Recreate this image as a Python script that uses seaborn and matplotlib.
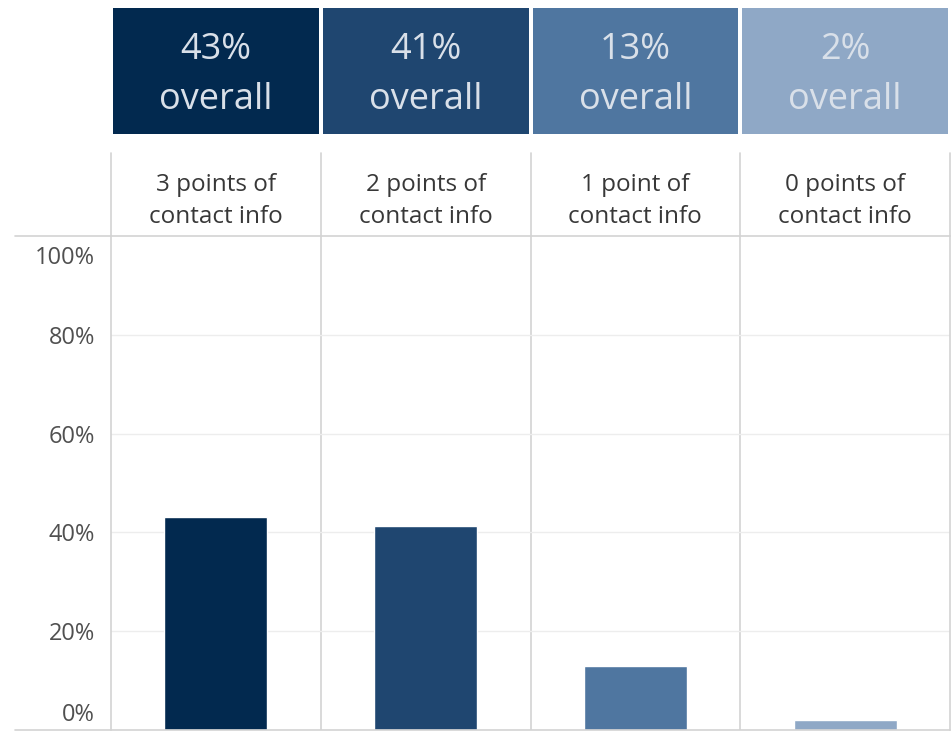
import numpy as np
import matplotlib
matplotlib.use("Agg")
import matplotlib.pyplot as plt
from matplotlib.colors import ListedColormap
from matplotlib.lines import Line2D
import seaborn as sns

# ---- data ----
categories = ["3 points of\ncontact info", "2 points of\ncontact info",
              "1 point of\ncontact info", "0 points of\ncontact info"]
shares = [0.432, 0.412, 0.129, 0.021]
header_labels = ["43%\noverall", "41%\noverall", "13%\noverall", "2%\noverall"]
colors = ["#02294f", "#1f4670", "#4f76a0", "#8fa8c6"]
yticks = [0.0, 0.2, 0.4, 0.6, 0.8, 1.0]
ytick_labels = ["0%", "20%", "40%", "60%", "80%", "100%"]

sns.set_theme(style="white")
plt.rcParams["font.family"] = ["Open Sans", "DejaVu Sans"]

W, H = 952, 731
fig = plt.figure(figsize=(W / 100, H / 100), dpi=100)

left = 111 / W
width = (950 - 111) / W

def fy(top_px, bot_px):
    return 1 - bot_px / H, (bot_px - top_px) / H

GRID = "#d3d3d3"

# ---- header boxes (heatmap) ----
b, h = fy(6, 136)
ax_h = fig.add_axes([left, b, width, h])
sns.heatmap(np.array([[0, 1, 2, 3]]), cmap=ListedColormap(colors), cbar=False,
            annot=np.array([header_labels]), fmt="", linewidths=1.5, linecolor="white",
            annot_kws={"color": "#d9e0e9", "fontsize": 26, "linespacing": 1.52},
            ax=ax_h)
for t in ax_h.texts:
    t.set_y(0.53)
ax_h.set_xticks([]); ax_h.set_yticks([])
ax_h.set_xlabel(""); ax_h.set_ylabel("")

# ---- column labels ----
b, h = fy(153, 236)
ax_l = fig.add_axes([left, b, width, h])
ax_l.set_xlim(-0.5, 3.5); ax_l.set_ylim(0, 1)
for i, lab in enumerate(categories):
    ax_l.text(i, 0.42, lab, ha="center", va="center", fontsize=17.5,
              color="#383838", linespacing=1.42)
ax_l.axis("off")
for xv in [-0.5, 0.5, 1.5, 2.5, 3.5]:
    ax_l.plot([xv, xv], [0, 1], color=GRID, lw=1.2, clip_on=False)

# ---- bars ----
b, h = fy(236, 730)
ax = fig.add_axes([left, b, width, h])
sns.barplot(x=list(range(len(shares))), y=shares, hue=list(range(len(shares))),
            palette=colors, legend=False, width=0.49, saturation=1, ax=ax)
ax.set_xlim(-0.5, 3.5)
ax.set_ylim(0, 1)
ax.set_yticks(yticks[1:-1])
ax.set_yticklabels(ytick_labels[1:-1])
ax.set_xticks([])
ax.set_xlabel(""); ax.set_ylabel("")
ax.grid(axis="y", color="#ededed", lw=1)
ax.set_axisbelow(True)
for xv in [0.5, 1.5, 2.5]:
    ax.axvline(xv, color=GRID, lw=1.2, zorder=0)
for s in ["left", "right"]:
    ax.spines[s].set_color(GRID); ax.spines[s].set_linewidth(1.2)
for s in ["top", "bottom"]:
    ax.spines[s].set_visible(False)
ax.tick_params(axis="y", length=0, pad=11.5, labelsize=17, labelcolor="#505050")
# end labels kept inside the pane, as in the original
ax.annotate(ytick_labels[-1], xy=(0, yticks[-1]), xycoords=("axes fraction", "data"),
            xytext=(-11.5, -7), textcoords="offset points", ha="right", va="top",
            fontsize=17, color="#505050")
ax.annotate(ytick_labels[0], xy=(0, yticks[0]), xycoords=("axes fraction", "data"),
            xytext=(-11.5, 2), textcoords="offset points", ha="right", va="bottom",
            fontsize=17, color="#505050")

# full-width rules at top and bottom of the pane
for ypx in [236, 729.5]:
    fig.add_artist(Line2D([15 / W, 950 / W], [1 - ypx / H, 1 - ypx / H],
                          color=GRID, lw=1.2, transform=fig.transFigure))

fig.savefig("out.png", dpi=100, facecolor="white")
